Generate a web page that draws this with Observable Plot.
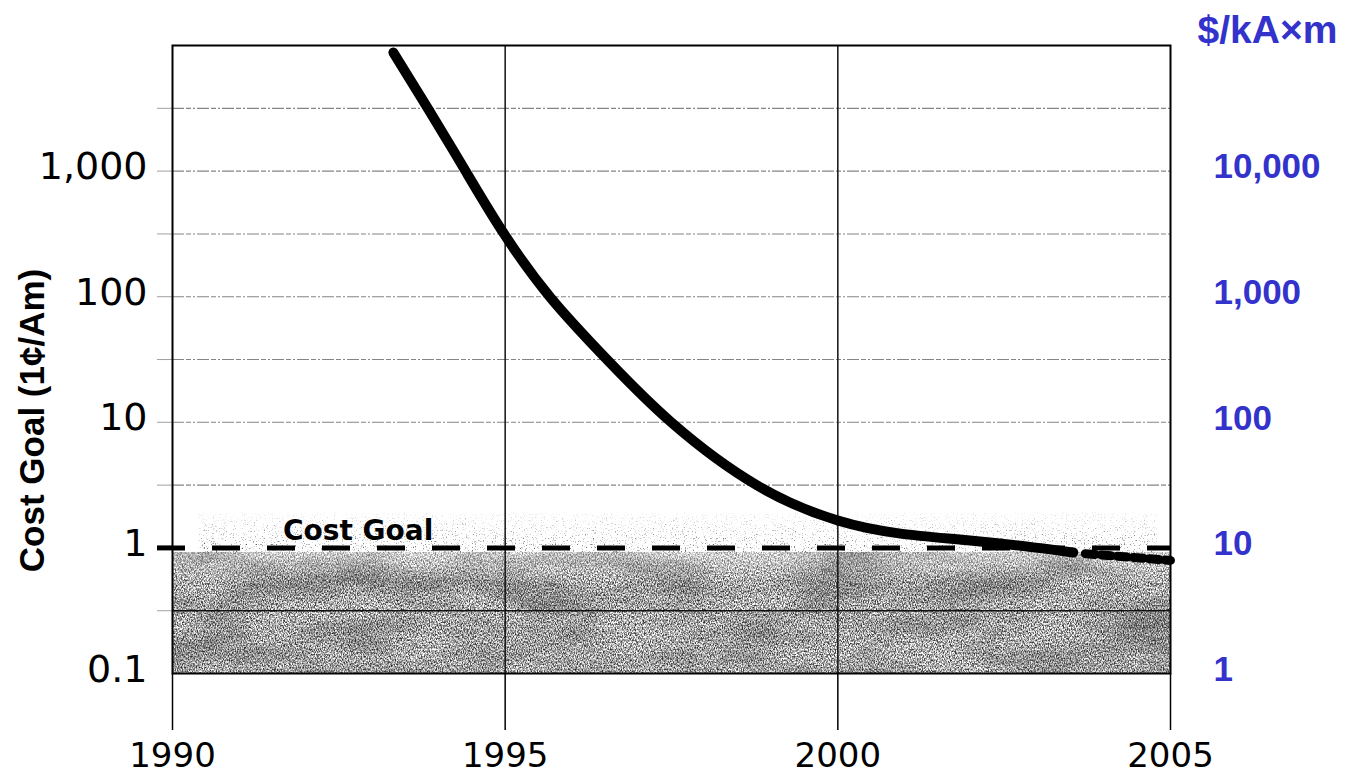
<!DOCTYPE html>
<html>
<head>
<meta charset="utf-8">
<script src="https://cdn.jsdelivr.net/npm/d3@7"></script>
<script src="https://cdn.jsdelivr.net/npm/@observablehq/plot@0.6"></script>
<style>
  html, body { margin: 0; padding: 0; background: #fff; }
  #chart { width: 1355px; height: 773px; }
</style>
</head>
<body>
<div id="chart"></div>
<script>
// Conductor cost trajectory, in cents per ampere-metre (log scale)
const years = [1993.32, 1993.84, 1994.40, 1994.97, 1995.68, 1996.53, 1997.50, 1998.79, 2000.0, 2000.94, 2001.95, 2002.94, 2003.54];
const cost  = [8790,    3150,    1010,    324,     98.6,    31.6,    9.96,    3.14,    1.65,   1.30,    1.15,    1.01,    0.92];

// Projected tail (dotted)
const projYears = [2003.72, 2005];
const projCost  = [0.90, 0.795];

// Cost goal level and its label
const goalCost = 1;
const goalLabel = [{year: 1992.79, value: 1, text: "Cost Goal"}];

// Shaded "below goal" band, its darker mottling, and the sparse speckle above it
const shadeBand   = [{x1: 1990, x2: 2005, y1: 0.1, y2: 0.92, name: "shade"}];
const mottleBand  = [{x1: 1990, x2: 2005, y1: 0.1, y2: 0.92, name: "mottle"}];
const speckleBand = [{x1: 1990.4, x2: 2004.8, y1: 0.92, y2: 1.9, name: "speckle"}];

// Axes
const xTicks = [1990, 1995, 2000, 2005];
const yTicks = [0.1, 1, 10, 100, 1000];
const yTickLabels = ["0.1", "1", "10", "100", "1,000"];
const yDomain = [0.1, 10000];
const gridFaint = [3.16, 10, 31.6, 100, 316, 1000, 3160];
const gridSolid = [0.316];
const vGrid = [1995, 2000];

// Right-hand axis: $/kA×m (1 ¢/A·m = 10 $/kA·m)
const rightValues = [1, 10, 100, 1000, 10000];
const rightLabels = ["1", "10", "100", "1,000", "10,000"];
const centsPerAmToDollarsPerKAm = 10;

const curve = years.map((y, i) => ({year: y, value: cost[i]}));
const proj = projYears.map((y, i) => ({year: y, value: projCost[i]}));
const rightPos = rightValues.map(v => v / centsPerAmToDollarsPerKAm);
const rightLabelOf = new Map(rightPos.map((p, i) => [p, rightLabels[i]]));
const leftLabelOf = new Map(yTicks.map((t, i) => [t, yTickLabels[i]]));

const blue = "#3333cc";
const tickFont = "DejaVu Sans, Liberation Sans, sans-serif";
const boldFont = "Liberation Sans, Arial, sans-serif";

const svg = Plot.plot({
  width: 1355,
  height: 773,
  marginLeft: 172,
  marginRight: 185,
  marginTop: 45,
  marginBottom: 100,
  style: {background: "#fff", color: "#000", fontFamily: tickFont, overflow: "visible"},
  x: {type: "linear", domain: [1990, 2005]},
  y: {type: "log", domain: yDomain},
  marks: [
    // grainy shading
    Plot.rect(shadeBand, {x1: "x1", x2: "x2", y1: "y1", y2: "y2", fill: "#000", ariaLabel: "name"}),
    Plot.rect(mottleBand, {x1: "x1", x2: "x2", y1: "y1", y2: "y2", fill: "#000", ariaLabel: "name"}),
    Plot.rect(speckleBand, {x1: "x1", x2: "x2", y1: "y1", y2: "y2", fill: "#000", ariaLabel: "name"}),

    // horizontal grid
    Plot.ruleY(gridFaint, {stroke: "#333", strokeWidth: 1.1, strokeOpacity: 0.6, strokeDasharray: "12,2,5,2,2,2"}),
    Plot.ruleY(gridSolid, {stroke: "#111", strokeWidth: 1.5}),
    Plot.axisY({ticks: gridFaint.concat(gridSolid), tickSize: 15, tickFormat: () => "", stroke: "#444", strokeOpacity: 0.5}),

    // vertical grid
    Plot.ruleX(vGrid, {stroke: "#111", strokeWidth: 1.5}),

    // frame
    Plot.frame({stroke: "#000", strokeWidth: 2}),

    // cost goal dashed line, with its left tick
    Plot.axisY({ticks: [goalCost], tickSize: 15, tickFormat: () => "", stroke: "#000", strokeWidth: 5}),
    Plot.ruleY([goalCost], {stroke: "#000", strokeWidth: 5, strokeDasharray: "28,27", strokeDashoffset: 15}),
    Plot.text(goalLabel, {x: "year", y: "value", text: "text", lineAnchor: "bottom", dy: -8,
      fontFamily: "DejaVu Sans, sans-serif", fontWeight: "bold", fontSize: 28, fill: "#000"}),

    // cost curve and projection
    Plot.line(curve, {x: "year", y: "value", stroke: "#000", strokeWidth: 10, curve: "natural"}),
    Plot.line(proj, {x: "year", y: "value", stroke: "#000", strokeWidth: 9, strokeDasharray: "10,6"}),

    // axes
    Plot.axisX({ticks: xTicks, tickFormat: d => String(d), tickSize: 57, tickPadding: 12,
      fontSize: 34, fontFamily: tickFont, stroke: "#000", strokeWidth: 1.5}),
    Plot.axisY({ticks: yTicks, tickFormat: d => leftLabelOf.get(d), tickSize: 0, tickPadding: 25,
      fontSize: 38, fontFamily: tickFont, dy: -4}),
    Plot.axisY({anchor: "right", ticks: rightPos, tickFormat: d => rightLabelOf.get(d), tickSize: 0, tickPadding: 43,
      fontSize: 35, fontFamily: boldFont, fontWeight: "bold", fill: blue, dy: -4}),

    // axis titles
    Plot.text(["Cost Goal (1¢/Am)"], {frameAnchor: "left", rotate: -90, dx: -140, dy: 61,
      textAnchor: "middle", lineAnchor: "middle",
      fontFamily: "Liberation Sans Narrow, Liberation Sans, Arial, sans-serif", fontWeight: "bold", fontSize: 35, fill: "#000"}),
    Plot.text(["$/kA×m"], {frameAnchor: "top-right", dx: 27, dy: -15, textAnchor: "start", lineAnchor: "middle",
      fontFamily: boldFont, fontWeight: "bold", fontSize: 39, fill: blue})
  ]
});

// grain filters and fade for the shaded band
const ns = "http://www.w3.org/2000/svg";
const defs = document.createElementNS(ns, "defs");
defs.innerHTML = `
  <linearGradient id="fade" x1="0" y1="1" x2="0" y2="0">
    <stop offset="0" stop-color="#000" stop-opacity="1"/>
    <stop offset="1" stop-color="#000" stop-opacity="0.15"/>
  </linearGradient>
  <linearGradient id="softTop" x1="0" y1="0" x2="0" y2="1">
    <stop offset="0" stop-color="#000" stop-opacity="0.55"/>
    <stop offset="0.25" stop-color="#000" stop-opacity="1"/>
    <stop offset="1" stop-color="#000" stop-opacity="1"/>
  </linearGradient>
  <filter id="grain" x="0" y="0" width="1" height="1" color-interpolation-filters="sRGB">
    <feTurbulence type="fractalNoise" baseFrequency="0.85 0.55" numOctaves="4" seed="7" result="fine"/>
    <feColorMatrix in="fine" type="matrix"
      values="0 0 0 0 0.2  0 0 0 0 0.2  0 0 0 0 0.2  2.4 0 0 0 -0.8" result="dots"/>
    <feComposite in="dots" in2="SourceAlpha" operator="in"/>
  </filter>
  <filter id="mottle" x="0" y="0" width="1" height="1" color-interpolation-filters="sRGB">
    <feTurbulence type="fractalNoise" baseFrequency="0.01 0.03" numOctaves="3" seed="5" result="coarse"/>
    <feTurbulence type="fractalNoise" baseFrequency="0.9 0.5" numOctaves="2" seed="19" result="fine"/>
    <feColorMatrix in="coarse" type="matrix"
      values="0 0 0 0 0.15  0 0 0 0 0.15  0 0 0 0 0.15  1.3 0 0 0 -0.5" result="patches"/>
    <feColorMatrix in="fine" type="matrix"
      values="0 0 0 0 0  0 0 0 0 0  0 0 0 0 0  2 0 0 0 -0.4" result="fineMask"/>
    <feComposite in="patches" in2="fineMask" operator="in" result="grainyPatches"/>
    <feComposite in="grainyPatches" in2="SourceAlpha" operator="in"/>
  </filter>
  <filter id="speckle" x="0" y="0" width="1" height="1" color-interpolation-filters="sRGB">
    <feTurbulence type="fractalNoise" baseFrequency="0.9 0.7" numOctaves="2" seed="11" result="fine"/>
    <feColorMatrix in="fine" type="matrix"
      values="0 0 0 0 0.25  0 0 0 0 0.25  0 0 0 0 0.25  4 0 0 0 -2.4" result="dots"/>
    <feComposite in="dots" in2="SourceAlpha" operator="in"/>
  </filter>`;
svg.insertBefore(defs, svg.firstChild);
const shade = svg.querySelector('[aria-label="shade"]');
if (shade) {
  shade.setAttribute("filter", "url(#grain)");
  shade.setAttribute("fill", "url(#softTop)");
}
const mottle = svg.querySelector('[aria-label="mottle"]');
if (mottle) mottle.setAttribute("filter", "url(#mottle)");
const speckle = svg.querySelector('[aria-label="speckle"]');
if (speckle) {
  speckle.setAttribute("filter", "url(#speckle)");
  speckle.setAttribute("fill", "url(#fade)");
}

document.getElementById("chart").appendChild(svg);
</script>
</body>
</html>
